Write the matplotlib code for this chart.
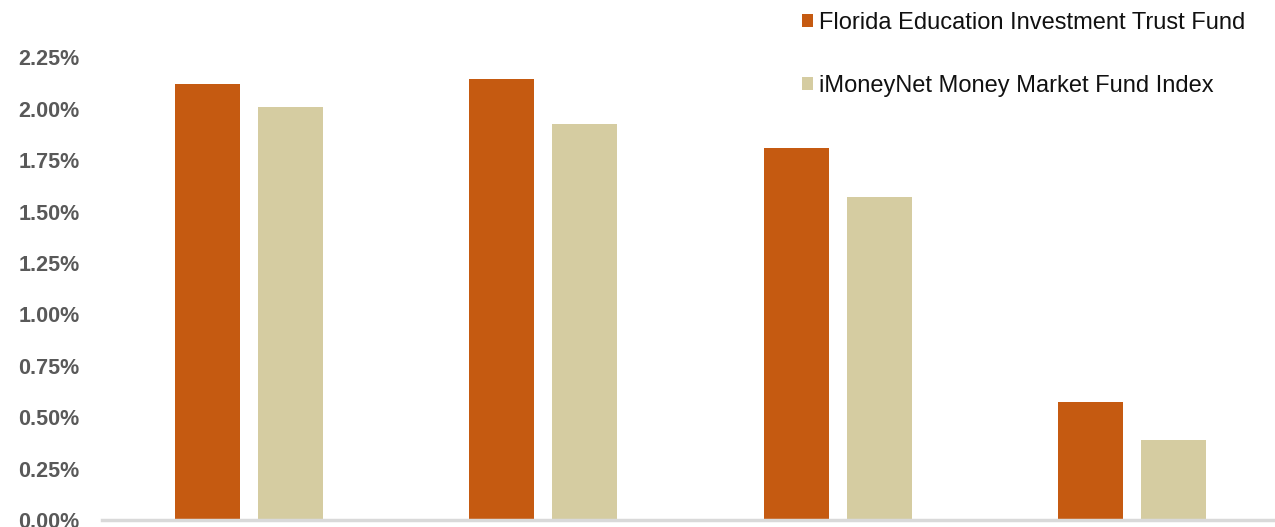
import numpy as np
import matplotlib.pyplot as plt
from matplotlib.ticker import FuncFormatter

# données (en %)
categories = ['1', '2', '3', '4']
fund = [2.12, 2.145, 1.81, 0.574]
index = [2.01, 1.926, 1.571, 0.389]
series_names = ['Florida Education Investment Trust Fund',
                'iMoneyNet Money Market Fund Index']
yticks = [0, 0.25, 0.5, 0.75, 1.0, 1.25, 1.5, 1.75, 2.0, 2.25]

orange = '#C55A11'
tan = '#D5CCA1'

plt.rcParams['font.family'] = ['Liberation Sans', 'DejaVu Sans']

fig = plt.figure(figsize=(12.75, 5.27), dpi=100)
ax = fig.add_axes([102 / 1275, 7 / 527, (1279 - 102) / 1275, 1 - 13 / 527])

x = np.arange(len(categories))
w = 0.221
off = 0.141
b1 = ax.bar(x - off, fund, w, color=orange, label=series_names[0])
b2 = ax.bar(x + off, index, w, color=tan, label=series_names[1])

ax.set_xlim(-0.5, 3.5)
ax.set_ylim(0, 2.5)
ax.set_yticks(yticks)
ax.yaxis.set_major_formatter(FuncFormatter(lambda v, p: f'{v:.2f}%'))
ax.set_xticks([])
for lab in ax.get_yticklabels():
    lab.set_fontweight('bold')
    lab.set_fontsize(15.5)
    lab.set_color('#595959')
ax.tick_params(axis='y', length=0, pad=16)

for s in ['top', 'right', 'left']:
    ax.spines[s].set_visible(False)
ax.spines['bottom'].set_color('#D9D9D9')
ax.spines['bottom'].set_linewidth(2.5)

leg = fig.legend(handles=[b1, b2], loc='upper left',
                 bbox_to_anchor=(802 / 1275, 1 - 12 / 527),
                 frameon=False, fontsize=17, handlelength=0.46, handleheight=0.46,
                 handletextpad=0.25, labelspacing=1.75, borderpad=0, borderaxespad=0)
for t in leg.get_texts():
    t.set_color('#111111')

plt.savefig('out.png')
